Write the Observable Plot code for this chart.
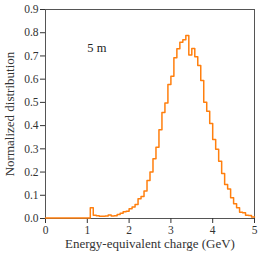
<!DOCTYPE html>
<html>
<head>
<meta charset="utf-8">
<script src="https://cdn.jsdelivr.net/npm/d3@7"></script>
<script src="https://cdn.jsdelivr.net/npm/@observablehq/plot@0.6"></script>
<style>
  html, body { margin: 0; padding: 0; background: #fff; }
  svg { display: block; }
</style>
</head>
<body>
<div id="chart"></div>
<script>
// Histogram: 70 equal bins over 0–5 GeV
const binCount = 70;
const xMax = 5;
const values = [
  0.002, 0.002, 0.002, 0.002, 0.002, 0.002, 0.002, 0.002, 0.002, 0.002,
  0.002, 0.002, 0.002, 0.002, 0.002, 0.046, 0.014, 0.012, 0.010, 0.010,
  0.011, 0.015, 0.011, 0.012, 0.017, 0.023, 0.029, 0.031, 0.042, 0.049,
  0.060, 0.085, 0.095, 0.118, 0.164, 0.200, 0.257, 0.307, 0.382, 0.456,
  0.497, 0.577, 0.613, 0.692, 0.731, 0.759, 0.770, 0.788, 0.704, 0.732,
  0.697, 0.659, 0.594, 0.501, 0.462, 0.409, 0.340, 0.298, 0.246, 0.194,
  0.146, 0.127, 0.089, 0.063, 0.046, 0.027, 0.025, 0.014, 0.013, 0.006
];
const xTicks = [0, 1, 2, 3, 4, 5];
const yTicks = [0, 0.1, 0.2, 0.3, 0.4, 0.5, 0.6, 0.7, 0.8, 0.9];
const annotation = [{x: 1.0, y: 0.735, label: "5 m"}];

const binWidth = xMax / binCount;
const steps = values.map((v, i) => ({x: i * binWidth, y: v}));
steps.push({x: xMax, y: values[values.length - 1]});

const font = "'Liberation Serif', 'DejaVu Serif', serif";

const chart = Plot.plot({
  width: 266,
  height: 253,
  marginLeft: 45,
  marginRight: 12,
  marginTop: 9,
  marginBottom: 35,
  style: {fontFamily: font, fontSize: "11px", color: "#333", background: "#fff"},
  x: {domain: [0, 5]},
  y: {domain: [0, 0.9]},
  marks: [
    Plot.frame({stroke: "#555", strokeWidth: 1}),
    Plot.axisX({ticks: xTicks, tickSize: 5, tickPadding: 2, tickFormat: d => String(d),
      label: null, fontSize: 11.5}),
    Plot.axisY({ticks: yTicks, tickSize: 5, tickPadding: 2, tickFormat: d3.format(".1f"),
      label: null, fontSize: 11.5}),
    Plot.axisX({ticks: [], tickSize: 0, label: "Energy-equivalent charge (GeV)",
      labelAnchor: "center", labelArrow: "none", labelOffset: 29, fontSize: 13}),
    Plot.axisY({ticks: [], tickSize: 0, label: "Normalized distribution",
      labelAnchor: "center", labelArrow: "none", labelOffset: 41, fontSize: 13}),
    Plot.line(steps, {x: "x", y: "y", curve: "step-after", stroke: "#ff7f0e", strokeWidth: 1.5}),
    Plot.text(annotation, {x: "x", y: "y", text: "label", textAnchor: "start", fontSize: 12.5, fill: "#222"})
  ]
});
document.getElementById("chart").appendChild(chart);
</script>
</body>
</html>
